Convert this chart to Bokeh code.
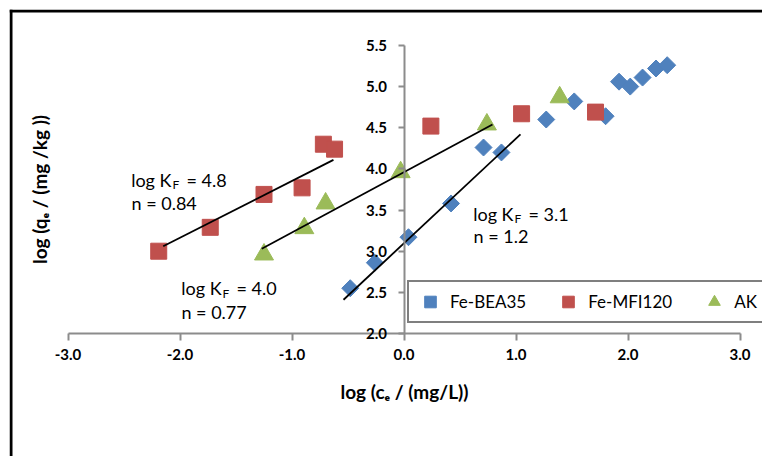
from math import pi
from bokeh.plotting import figure
from bokeh.models import (Range1d, LinearAxis, FixedTicker, PrintfTickFormatter,
                          Label, Span, Legend, LegendItem)
from bokeh.embed import file_html
from bokeh.resources import INLINE

# ---------------- data ----------------
bea_x = [-0.48, -0.26, 0.04, 0.42, 0.71, 0.87, 1.27, 1.52, 1.80, 1.92, 2.02, 2.13, 2.25, 2.35]
bea_y = [2.55, 2.86, 3.17, 3.58, 4.26, 4.20, 4.60, 4.82, 4.64, 5.06, 5.00, 5.11, 5.22, 5.26]
mfi_x = [-2.19, -1.73, -1.25, -0.91, -0.72, -0.62, 0.24, 1.05, 1.71]
mfi_y = [3.00, 3.29, 3.69, 3.77, 4.30, 4.24, 4.52, 4.67, 4.69]
ak_x = [-1.25, -0.89, -0.70, -0.03, 0.74, 1.39]
ak_y = [2.96, 3.28, 3.58, 3.96, 4.54, 4.87]

# Freundlich fit lines (end points)
bea_fit_x = [-0.54, 1.04]
bea_fit_y = [2.41, 4.42]
mfi_fit_x = [-2.15, -0.63]
mfi_fit_y = [3.06, 4.11]
ak_fit_x = [-1.27, 0.79]
ak_fit_y = [3.03, 4.54]

series_names = ["Fe-BEA35", "Fe-MFI120", "AK"]
kf_values = ["4.8", "4.0", "3.1"]
n_values = ["0.84", "0.77", "1.2"]

x_ticks = [-3.0, -2.0, -1.0, 0.0, 1.0, 2.0, 3.0]
y_ticks = [2.0, 2.5, 3.0, 3.5, 4.0, 4.5, 5.0, 5.5]
x_title = "log (c\u2091 / (mg/L))"
y_title = "log (q\u2091 / (mg /kg ))"

# annotation anchor positions (data units)
ann_kf_x = [-2.076, -1.629, 0.978]   # end of "log K"
ann_kf_y = [3.870, 2.547, 3.458]
ann_n_x = [-2.433, -1.987, 0.621]
ann_n_y = [3.580, 2.267, 3.179]

# ---------------- layout / styles ----------------
W, H = 762, 456
FL, FT = 9, 9
X0PX, XPU = 403.5, 112.0
Y2PX, YPU = 333.0, 82.3
x_start = -(X0PX - FL) / XPU
x_end = (W - X0PX) / XPU
y_end = 2.0 + (Y2PX - FT) / YPU
y_start = 2.0 - (H - Y2PX) / YPU

BLUE, RED, GREEN = "#4F81BD", "#C0504D", "#9BBB59"
GRAY = "#8c8c8c"
FONT = "Lato"

p = figure(width=W, height=H, x_range=Range1d(x_start, x_end), y_range=Range1d(y_start, y_end),
           x_axis_type=None, y_axis_type=None, title=None, toolbar_location=None,
           output_backend="svg", min_border_left=FL, min_border_top=FT,
           min_border_right=0, min_border_bottom=0)
p.outline_line_color = None
p.background_fill_color = "white"
p.border_fill_color = "white"

# outer chart border (left and top)
p.add_layout(Span(location=x_start + 1.5 / XPU, dimension="height", line_color="black", line_width=3))
p.add_layout(Span(location=y_end - 1.5 / YPU, dimension="width", line_color="black", line_width=3))


def style_axis(ax, tick_out, standoff):
    ax.axis_line_color = GRAY
    ax.axis_line_width = 2
    ax.major_tick_line_color = GRAY
    ax.major_tick_line_width = 2
    ax.major_tick_in = 0
    ax.major_tick_out = tick_out
    ax.minor_tick_in = 0
    ax.minor_tick_out = 0
    ax.major_label_text_font = FONT
    ax.major_label_text_font_style = "bold"
    ax.major_label_text_font_size = "15px"
    ax.major_label_text_color = "black"
    ax.major_label_standoff = standoff


xaxis = LinearAxis(fixed_location=2.0, bounds=(x_ticks[0], x_ticks[-1]),
                   ticker=FixedTicker(ticks=x_ticks),
                   formatter=PrintfTickFormatter(format="%.1f"),
                   axis_label=x_title)
style_axis(xaxis, 7, 8)
xaxis.axis_label_text_font = FONT
xaxis.axis_label_text_font_style = "bold"
xaxis.axis_label_text_font_size = "19px"
xaxis.axis_label_text_color = "black"
xaxis.axis_label_standoff = 17
p.add_layout(xaxis, "below")

yaxis = LinearAxis(fixed_location=0.0, bounds=(y_ticks[0], y_ticks[-1]),
                   ticker=FixedTicker(ticks=y_ticks),
                   formatter=PrintfTickFormatter(format="%.1f"))
style_axis(yaxis, 6, 11)
p.add_layout(yaxis, "left")

p.add_layout(Label(x=(39 - X0PX) / XPU, y=2.0 + (Y2PX - 189) / YPU, text=y_title, angle=pi / 2,
                   text_align="center", text_baseline="middle", text_font=FONT,
                   text_font_style="bold", text_font_size="19px", text_color="black"))

# ---------------- marks ----------------
r_bea = p.scatter(bea_x, bea_y, marker="square", angle=pi / 4, size=12,
                  fill_color=BLUE, line_color=BLUE)
r_mfi = p.scatter(mfi_x, mfi_y, marker="square", size=16, fill_color=RED, line_color=RED)
r_ak = p.scatter(ak_x, ak_y, marker="triangle", size=19, fill_color=GREEN, line_color=GREEN)

for fx, fy in [(mfi_fit_x, mfi_fit_y), (ak_fit_x, ak_fit_y), (bea_fit_x, bea_fit_y)]:
    p.line(fx, fy, line_color="black", line_width=1.8)

# ---------------- annotations ----------------
for i in range(3):
    common = dict(text_font=FONT, text_color="black", text_baseline="middle")
    p.add_layout(Label(x=ann_kf_x[i], y=ann_kf_y[i], text="log K", text_align="right",
                       text_font_size="18px", **common))
    p.add_layout(Label(x=ann_kf_x[i], y=ann_kf_y[i], text="F", x_offset=1, y_offset=-5,
                       text_align="left", text_font_size="12px", **common))
    p.add_layout(Label(x=ann_kf_x[i], y=ann_kf_y[i], text="= " + kf_values[i], x_offset=15,
                       text_align="left", text_font_size="18px", **common))
    p.add_layout(Label(x=ann_n_x[i], y=ann_n_y[i], text="n = " + n_values[i],
                       text_align="left", text_font_size="18px", **common))

# ---------------- legend ----------------
legend = Legend(items=[LegendItem(label=series_names[0], renderers=[r_bea]),
                       LegendItem(label=series_names[1], renderers=[r_mfi]),
                       LegendItem(label=series_names[2], renderers=[r_ak])],
                orientation="horizontal", location=(398, 133), margin=0,
                padding=5, glyph_width=32, glyph_height=29, label_standoff=4, spacing=26,
                label_text_font=FONT, label_text_font_size="17px", label_text_color="black",
                border_line_color="black", border_line_width=2,
                background_fill_color="white", background_fill_alpha=1.0)
p.add_layout(legend)

open("out.html", "w").write(file_html(p, INLINE))
